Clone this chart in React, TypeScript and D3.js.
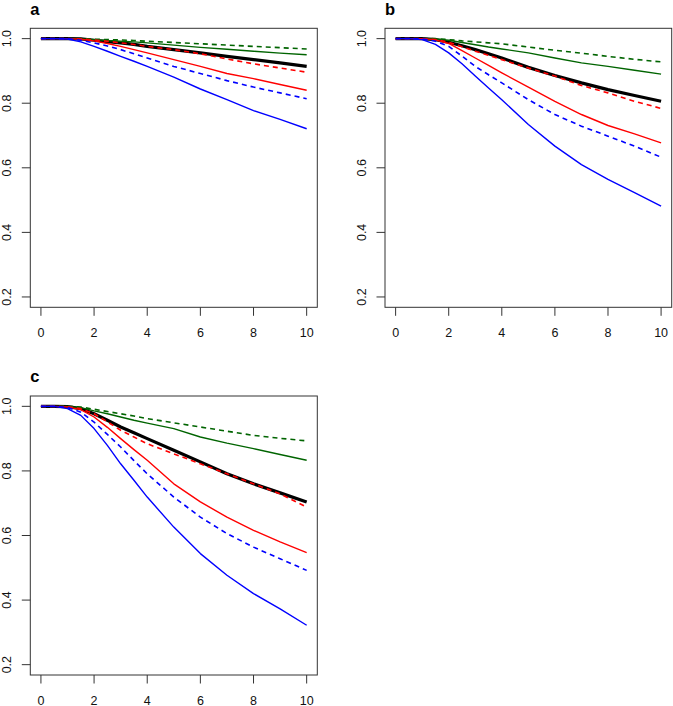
import React from "react";
import * as d3 from "d3";

const times = [0, 0.5, 1, 1.5, 2, 2.5, 3, 3.5, 4, 5, 6, 7, 8, 9, 10];
const xTicks = [0, 2, 4, 6, 8, 10];
const yTicks = [0.2, 0.4, 0.6, 0.8, 1.0];
const panelLabels = ["a", "b", "c"];

// Panel a
const aBlack = [1, 1, 1, 0.999, 0.995, 0.991, 0.987, 0.982, 0.976, 0.966, 0.956, 0.945, 0.935, 0.925, 0.914];
const aGreenSolid = [1, 1, 1, 0.999, 0.997, 0.994, 0.992, 0.99, 0.987, 0.98, 0.973, 0.967, 0.961, 0.955, 0.95];
const aGreenDashed = [1, 1, 1, 1, 0.998, 0.997, 0.996, 0.994, 0.992, 0.988, 0.984, 0.98, 0.976, 0.972, 0.968];
const aRedSolid = [1, 1, 1, 0.998, 0.993, 0.985, 0.976, 0.966, 0.956, 0.935, 0.914, 0.892, 0.876, 0.858, 0.84];
const aRedDashed = [1, 1, 1, 0.999, 0.996, 0.992, 0.987, 0.982, 0.976, 0.966, 0.953, 0.937, 0.922, 0.909, 0.896];
const aBlueSolid = [1, 1, 0.999, 0.99, 0.976, 0.961, 0.945, 0.93, 0.914, 0.881, 0.844, 0.811, 0.777, 0.75, 0.721];
const aBlueDashed = [1, 1, 1, 0.995, 0.987, 0.977, 0.966, 0.953, 0.94, 0.914, 0.892, 0.87, 0.85, 0.832, 0.814];

// Panel b
const bBlack = [1, 1, 1, 0.997, 0.989, 0.978, 0.966, 0.953, 0.94, 0.911, 0.886, 0.863, 0.842, 0.824, 0.806];
const bGreenSolid = [1, 1, 1, 0.999, 0.995, 0.988, 0.981, 0.974, 0.968, 0.956, 0.94, 0.925, 0.914, 0.902, 0.89];
const bGreenDashed = [1, 1, 1, 1, 0.997, 0.993, 0.99, 0.987, 0.984, 0.974, 0.964, 0.955, 0.945, 0.936, 0.928];
const bRedSolid = [1, 1, 1, 0.996, 0.985, 0.963, 0.94, 0.917, 0.894, 0.85, 0.806, 0.765, 0.731, 0.705, 0.677];
const bRedDashed = [1, 1, 1, 0.997, 0.989, 0.975, 0.961, 0.948, 0.935, 0.909, 0.884, 0.855, 0.832, 0.806, 0.784];
const bBlueSolid = [1, 1, 0.997, 0.982, 0.956, 0.922, 0.884, 0.847, 0.811, 0.734, 0.667, 0.61, 0.564, 0.523, 0.481];
const bBlueDashed = [1, 1, 0.999, 0.992, 0.976, 0.946, 0.914, 0.888, 0.863, 0.811, 0.765, 0.729, 0.698, 0.667, 0.633];

// Panel c
const cBlack = [1, 1, 0.999, 0.993, 0.977, 0.957, 0.936, 0.918, 0.9, 0.864, 0.828, 0.791, 0.76, 0.732, 0.704];
const cGreenSolid = [1, 1, 1, 0.996, 0.986, 0.977, 0.967, 0.957, 0.948, 0.931, 0.905, 0.886, 0.869, 0.851, 0.833];
const cGreenDashed = [1, 1, 1, 0.998, 0.991, 0.984, 0.977, 0.97, 0.962, 0.949, 0.936, 0.923, 0.91, 0.901, 0.893];
const cRedSolid = [1, 1, 0.998, 0.99, 0.967, 0.935, 0.9, 0.866, 0.833, 0.76, 0.704, 0.657, 0.616, 0.58, 0.547];
const cRedDashed = [1, 1, 0.999, 0.993, 0.977, 0.952, 0.926, 0.905, 0.884, 0.853, 0.822, 0.791, 0.76, 0.729, 0.688];
const cBlueSolid = [1, 1, 0.993, 0.972, 0.931, 0.879, 0.822, 0.771, 0.719, 0.626, 0.544, 0.477, 0.42, 0.373, 0.322];
const cBlueDashed = [1, 1, 0.997, 0.982, 0.951, 0.913, 0.874, 0.832, 0.791, 0.719, 0.657, 0.606, 0.564, 0.528, 0.492];

const GREEN = "#006400";
const RED = "#ff0000";
const BLUE = "#0000ff";
const BLACK = "#000000";

type Series = { values: number[]; color: string; dashed: boolean; width: number };

const makeSeries = (
  black: number[], gs: number[], gd: number[], rs: number[], rd: number[], bs: number[], bd: number[]
): Series[] => [
  { values: black, color: BLACK, dashed: false, width: 3.2 },
  { values: gd, color: GREEN, dashed: true, width: 1.6 },
  { values: gs, color: GREEN, dashed: false, width: 1.4 },
  { values: rd, color: RED, dashed: true, width: 1.6 },
  { values: rs, color: RED, dashed: false, width: 1.4 },
  { values: bd, color: BLUE, dashed: true, width: 1.6 },
  { values: bs, color: BLUE, dashed: false, width: 1.4 },
];

const panelSeries: Series[][] = [
  makeSeries(aBlack, aGreenSolid, aGreenDashed, aRedSolid, aRedDashed, aBlueSolid, aBlueDashed),
  makeSeries(bBlack, bGreenSolid, bGreenDashed, bRedSolid, bRedDashed, bBlueSolid, bBlueDashed),
  makeSeries(cBlack, cGreenSolid, cGreenDashed, cRedSolid, cRedDashed, cBlueSolid, cBlueDashed),
];

const boxes = [
  { left: 30.3, right: 317.3, top: 28.3, bottom: 307.3 },
  { left: 385, right: 671.7, top: 28.3, bottom: 307.3 },
  { left: 30.3, right: 317.3, top: 396, bottom: 675 },
];

const FONT = "'Liberation Sans', Arial, Helvetica, sans-serif";
const AXIS = "#333333";

function Panel({ idx }: { idx: number }) {
  const b = boxes[idx];
  const x = d3.scaleLinear().domain([-0.4, 10.4]).range([b.left, b.right]);
  const y = d3.scaleLinear().domain([0.168, 1.032]).range([b.bottom, b.top]);
  const line = d3
    .line<number>()
    .x((_, i) => x(times[i]))
    .y((d) => y(d));
  return (
    <g>
      <text x={b.left} y={b.top - 13.8} fontFamily={FONT} fontWeight="bold" fontSize={16.5} fill="#000">
        {panelLabels[idx]}
      </text>
      {panelSeries[idx].map((s, i) => (
        <path
          key={i}
          d={line(s.values) || ""}
          fill="none"
          stroke={s.color}
          strokeWidth={s.width}
          strokeDasharray={s.dashed ? "5,4" : undefined}
          strokeLinejoin="round"
        />
      ))}
      <rect
        x={b.left}
        y={b.top}
        width={b.right - b.left}
        height={b.bottom - b.top}
        fill="none"
        stroke={AXIS}
        strokeWidth={1}
      />
      {xTicks.map((t) => (
        <g key={"x" + t}>
          <line x1={x(t)} x2={x(t)} y1={b.bottom} y2={b.bottom + 8.5} stroke={AXIS} strokeWidth={1} />
          <text
            x={x(t)}
            y={b.bottom + 29.5}
            textAnchor="middle"
            fontFamily={FONT}
            fontSize={12.5}
            fill="#111"
          >
            {t}
          </text>
        </g>
      ))}
      {yTicks.map((t) => (
        <g key={"y" + t}>
          <line x1={b.left - 8.5} x2={b.left} y1={y(t)} y2={y(t)} stroke={AXIS} strokeWidth={1} />
          <text
            transform={`translate(${b.left - 19},${y(t)}) rotate(-90)`}
            textAnchor="middle"
            fontFamily={FONT}
            fontSize={12.5}
            fill="#111"
          >
            {t.toFixed(1)}
          </text>
        </g>
      ))}
    </g>
  );
}

export default function App() {
  return (
    <svg
      width={673}
      height={706}
      style={{ position: "absolute", left: 0, top: 0, background: "#fff" }}
    >
      <rect x={0} y={0} width={673} height={706} fill="#fff" />
      {[0, 1, 2].map((i) => (
        <Panel key={i} idx={i} />
      ))}
    </svg>
  );
}
